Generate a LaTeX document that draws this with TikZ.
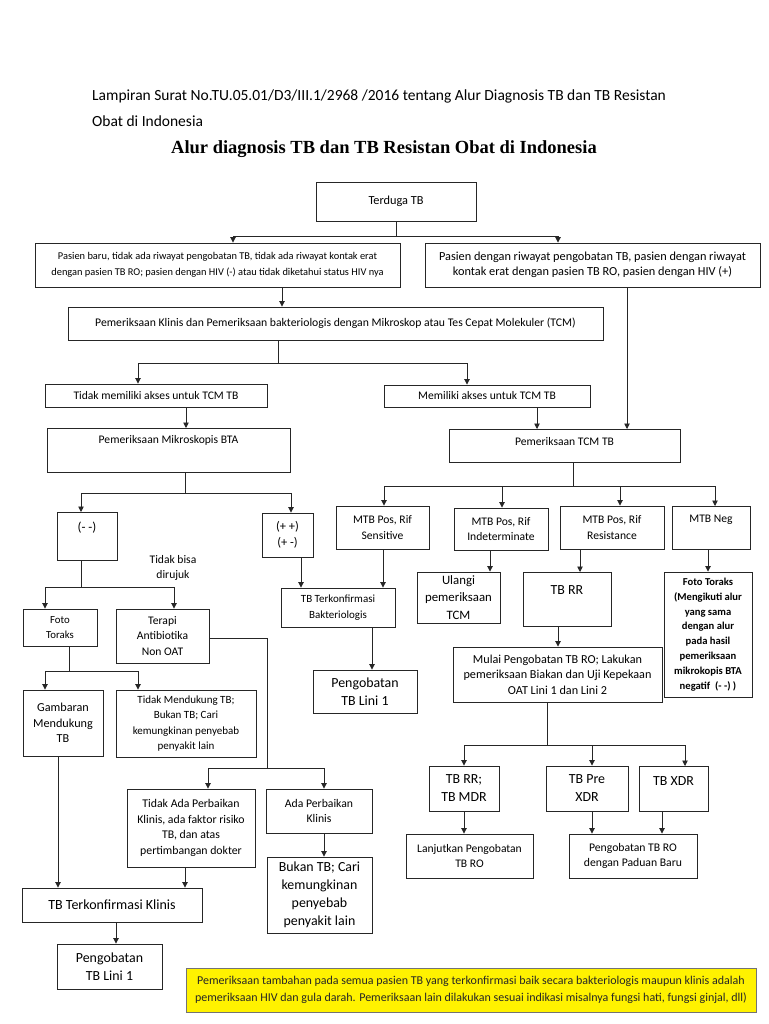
\documentclass[tikz,border=0pt]{standalone}
\usepackage{fontspec}
\setmainfont{Carlito}
\newfontfamily\titlefont{Liberation Serif}
\usetikzlibrary{arrows.meta}
\newcommand\bx[7][]{%
  \node[box,#1,minimum width={(#5-#3)*1pt},minimum height={(#6-#4)*1pt}] (#2) at ({(#3+#5)/2},{(#4+#6)/2}) {#7};}
\newcommand\tbx[8][]{%
  \node[box,#1,anchor=north,inner ysep=0pt,minimum width={(#5-#3)*1pt},#7] (#2) at ({(#3+#5)/2},#4) {#8};}
\tikzset{
  box/.style={draw=black!85, line width=0.9pt, align=center, inner sep=1pt,
    font=\fontsize{11.6}{15.5}\selectfont},
  fs/.style={font=\fontsize{#1}{15.5}\selectfont},
  big/.style={font=\fontsize{13.9}{18}\selectfont},
  ln/.style={draw=black!85, line width=0.9pt},
  arr/.style={ln, -{Triangle[width=5.5pt,length=5.5pt]}},
}
\begin{document}
\begin{tikzpicture}[x=1pt,y=-1pt]
\fill[white] (0,0) rectangle (768,1024);
\useasboundingbox (0,0) rectangle (768,1024);
% header
\node[anchor=base west, inner sep=0pt, font=\fontsize{15.5}{18}\selectfont] (hdr1) at (92,101) {Lampiran Surat No.TU.05.01/D3/III.1/2968 /2016 tentang Alur Diagnosis TB dan TB Resistan};
\node[anchor=base west, inner sep=0pt, font=\fontsize{15.5}{18}\selectfont] (hdr2) at (92,127) {Obat di Indonesia};
\node[anchor=base, inner sep=0pt, font=\titlefont\bfseries\fontsize{18.5}{20}\selectfont] (title) at (384,154) {Alur diagnosis TB dan TB Resistan Obat di Indonesia};
% boxes
\bx[fs=12.3]{terduga}{316}{182}{476}{221}{Terduga TB}
\bx[fs=10.4]{pbaru}{35}{243}{400}{287}{Pasien baru, tidak ada riwayat pengobatan TB, tidak ada riwayat kontak erat\\dengan pasien TB RO; pasien dengan HIV (-) atau tidak diketahui status HIV nya}
\bx[fs=12.3]{priw}{425}{243}{760}{287}{Pasien dengan riwayat pengobatan TB, pasien dengan riwayat\\kontak erat dengan pasien TB RO, pasien dengan HIV (+)}
\bx[fs=11.7]{pklin}{68}{307}{603}{340}{Pemeriksaan Klinis dan Pemeriksaan bakteriologis dengan Mikroskop atau Tes Cepat Molekuler (TCM)}
\bx{tidakakses}{45}{384}{267}{407}{Tidak memiliki akses untuk TCM TB}
\bx{akses}{384}{385}{590}{407}{Memiliki akses untuk TCM TB}
\tbx{mikro}{47}{428}{290}{472}{text height=15pt,text depth=29pt}{Pemeriksaan Mikroskopis BTA}
\tbx{tcm}{449}{429}{680}{462}{text height=16pt,text depth=17pt}{Pemeriksaan TCM TB}
\tbx[fs=13]{neg2}{57}{512}{117}{560}{text height=19pt,text depth=29pt}{(- -)}
\bx[fs=12.5]{pos2}{262}{513}{313}{557}{(+ +)\\(+ -)}
\bx{mtbs}{336}{506}{429}{549}{MTB Pos, Rif\\Sensitive}
\bx{mtbi}{454}{508}{548}{550}{MTB Pos, Rif\\Indeterminate}
\bx{mtbr}{560}{506}{664}{549}{MTB Pos, Rif\\Resistance}
\tbx{mtbn}{672}{506}{750}{549}{text height=16pt,text depth=27pt}{MTB Neg}
\node[box, draw=none] (dirujuk) at (173,568) {Tidak bisa\\dirujuk};
\bx[fs=10.8]{foto}{23}{609}{97}{646}{Foto\\Toraks}
\bx{terapi}{116}{609}{209}{663}{Terapi\\Antibiotika\\Non OAT}
\bx[fs=12.2]{gambaran}{23}{690}{103}{756}{Gambaran\\Mendukung\\TB}
\bx[fs=11]{tidakmend}{116}{690}{256}{757}{Tidak Mendukung TB;\\Bukan TB; Cari\\kemungkinan penyebab\\penyakit lain}
\bx[fs=11.8]{tidakada}{127}{789}{255}{867}{Tidak Ada Perbaikan\\Klinis, ada faktor risiko\\TB, dan atas\\pertimbangan dokter}
\bx[fs=11.7]{ada}{266}{789}{372}{833}{Ada Perbaikan\\Klinis}
\bx[big]{bukan}{267}{857}{372}{933}{Bukan TB; Cari\\kemungkinan\\penyebab\\penyakit lain}
\bx[font=\fontsize{14}{16}\selectfont]{klinis}{22}{888}{202}{922}{TB Terkonfirmasi Klinis}
\bx[big]{lini1a}{57}{944}{162}{989}{Pengobatan\\TB Lini 1}
\bx[fs=11]{bakt}{281}{588}{395}{627}{TB Terkonfirmasi\\Bakteriologis}
\bx[big]{lini1b}{313}{670}{417}{713}{Pengobatan\\TB Lini 1}
\bx[font=\fontsize{12.8}{17.5}\selectfont]{ulangi}{417}{572}{500}{623}{Ulangi\\pemeriksaan\\TCM}
\tbx[big]{tbrr}{523}{572}{611}{626}{text height=22pt,text depth=32pt}{TB RR}
\bx[fs=12.2]{mulai}{453}{647}{662}{702}{Mulai Pengobatan TB RO; Lakukan\\pemeriksaan Biakan dan Uji Kepekaan\\OAT Lini 1 dan Lini 2}
\bx[font=\bfseries\fontsize{10.6}{14.8}\selectfont]{fotor}{664}{572}{752}{697}{Foto Toraks\\(Mengikuti alur\\yang sama\\dengan alur\\pada hasil\\pemeriksaan\\mikrokopis BTA\\negatif \ (- -) )}
\bx[big]{mdr}{429}{766}{499}{811}{TB RR;\\TB MDR}
\bx[big]{prexdr}{546}{766}{628}{811}{TB Pre\\XDR}
\tbx[big]{xdr}{639}{766}{708}{811}{text height=19pt,text depth=26pt}{TB XDR}
\bx[fs=11.6]{lanjut}{406}{834}{533}{878}{Lanjutkan Pengobatan\\TB RO}
\bx[fs=11.7]{baru}{569}{834}{697}{878}{Pengobatan TB RO\\dengan Paduan Baru}
\bx[fill=yellow, draw=black!55, text=black!85, font=\fontsize{12}{16.5}\selectfont]{note}{186}{968}{756}{1012}{Pemeriksaan tambahan pada semua pasien TB yang terkonfirmasi baik secara bakteriologis maupun klinis adalah\\pemeriksaan HIV dan gula darah. Pemeriksaan lain dilakukan sesuai indikasi misalnya fungsi hati, fungsi ginjal, dll)}
% junctions
\coordinate (j1) at (396,236);
\coordinate (j2) at (278,363);
\coordinate (j3) at (185,493);
\coordinate (j4) at (573,486);
\coordinate (j5) at (81,587);
\coordinate (j6) at (69,671);
\coordinate (jt) at (267,768);
\coordinate (jm) at (547,745);
% connectors
\draw[ln] (terduga.south) -- (j1);
\draw[arr] (j1) -| (pbaru.north -| 233,0);
\draw[arr] (j1) -| (priw.north -| 558,0);
\draw[arr] (pbaru.south -| 282,0) -- (pklin.north -| 282,0);
\draw[arr] (priw.south -| 627,0) -- (tcm.north -| 627,0);
\draw[ln] (pklin.south -| j2) -- (j2);
\draw[arr] (j2) -| (tidakakses.north -| 138,0);
\draw[arr] (j2) -| (akses.north -| 467,0);
\draw[arr] (tidakakses.south -| 186,0) -- (mikro.north -| 186,0);
\draw[arr] (akses.south -| 537,0) -- (tcm.north -| 537,0);
\draw[ln] (mikro.south -| j3) -- (j3);
\draw[arr] (j3) -| (neg2.north -| 81,0);
\draw[arr] (j3) -| (pos2.north -| 291,0);
\draw[ln] (tcm.south -| j4) -- (j4);
\draw[arr] (j4) -| (mtbs.north -| 384,0);
\draw[arr] (j4) -| (mtbi.north -| 502,0);
\draw[arr] (j4) -| (mtbr.north -| 620,0);
\draw[arr] (j4) -| (mtbn.north -| 715,0);
\draw[ln] (neg2.south -| j5) -- (j5);
\draw[arr] (j5) -| (foto.north -| 45,0);
\draw[arr] (j5) -| (terapi.north -| 174,0);
\draw[ln] (foto.south -| j6) -- (j6);
\draw[arr] (j6) -| (gambaran.north -| 45,0);
\draw[arr] (j6) -| (tidakmend.north -| 138,0);
\draw[ln] (terapi.east |- 0,638) -| (jt);
\draw[arr] (jt) -| (tidakada.north -| 208,0);
\draw[arr] (jt) -| (ada.north -| 324,0);
\draw[arr] (gambaran.south -| 58,0) -- (klinis.north -| 58,0);
\draw[arr] (tidakada.south -| 185,0) -- (klinis.north -| 185,0);
\draw[arr] (ada.south -| 324,0) -- (bukan.north -| 324,0);
\draw[arr] (klinis.south -| 116,0) -- (lini1a.north -| 116,0);
\draw[arr] (pos2.south -| 301,0) -- (bakt.north -| 301,0);
\draw[arr] (mtbs.south -| 383,0) -- (bakt.north -| 383,0);
\draw[arr] (bakt.south -| 372,0) -- (lini1b.north -| 372,0);
\draw[arr] (mtbi.south -| 490,0) -- (ulangi.north -| 490,0);
\draw[arr] (mtbr.south -| 580,0) -- (tbrr.north -| 580,0);
\draw[arr] (mtbn.south -| 708,0) -- (fotor.north -| 708,0);
\draw[arr] (tbrr.south -| 558,0) -- (mulai.north -| 558,0);
\draw[ln] (mulai.south -| jm) -- (jm);
\draw[arr] (jm) -| (mdr.north -| 464,0);
\draw[arr] (jm) -| (prexdr.north -| 592,0);
\draw[arr] (jm) -| (xdr.north -| 685,0);
\draw[arr] (mdr.south -| 464,0) -- (lanjut.north -| 464,0);
\draw[arr] (prexdr.south -| 592,0) -- (baru.north -| 592,0);
\draw[arr] (xdr.south -| 662,0) -- (baru.north -| 662,0);
\end{tikzpicture}
\end{document}
